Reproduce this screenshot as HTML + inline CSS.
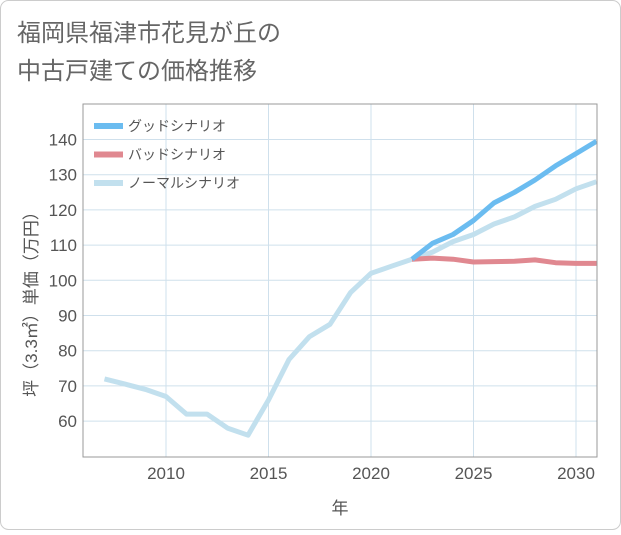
<!DOCTYPE html>
<html><head><meta charset="utf-8"><style>
body{margin:0;background:#fff;font-family:"Liberation Sans","Noto Sans CJK JP",sans-serif;}
#wrap{position:relative;width:621px;height:530px;}
</style></head><body>
<div id="wrap">
<svg id="chart" width="621" height="530" xmlns="http://www.w3.org/2000/svg">
<rect x="0.5" y="0.5" width="620" height="529" rx="8" fill="#fff" stroke="#ccc"/>
<text x="17" y="41" font-size="24" fill="#666" font-family="Liberation Sans,Noto Sans CJK JP,sans-serif">福岡県福津市花見が丘の</text>
<text x="17" y="79" font-size="24" fill="#666" font-family="Liberation Sans,Noto Sans CJK JP,sans-serif">中古戸建ての価格推移</text>
<g id="grid"></g><g id="series"></g><g id="axes"></g>
</svg>
</div>
<script>
const years=[2007,2008,2009,2010,2011,2012,2013,2014,2015,2016,2017,2018,2019,2020,2021,2022,2023,2024,2025,2026,2027,2028,2029,2030,2031];
const normal=[72,70.5,69,67,62,62,58,56,66,77.5,84,87.5,96.5,102,104,106,108,111,113,116,118,121,123,126,128];
const goodYears=[2022,2023,2024,2025,2026,2027,2028,2029,2030,2031];
const good=[106,110.5,113,117,122,125,128.5,132.5,136,139.5];
const bad=[106,106.3,106,105.2,105.3,105.4,105.8,105,104.8,104.8];
const xTicks=[2010,2015,2020,2025,2030];
const yTicks=[60,70,80,90,100,110,120,130,140];
const L=83,R=597,T=104,B=457;
const X=y=>166+(y-2010)*20.5;
const Y=v=>139.5-(v-140)*3.52;
const NS="http://www.w3.org/2000/svg";
function mk(p,t,a){const e=document.createElementNS(NS,t);for(const k in a)e.setAttribute(k,a[k]);p.appendChild(e);return e;}
const grid=document.getElementById('grid'),ser=document.getElementById('series'),ax=document.getElementById('axes');
yTicks.forEach(v=>{const l=mk(grid,'line',{x1:L,x2:R,y1:Y(v),y2:Y(v),stroke:'#cfe0ec','stroke-width':1});

const t=mk(ax,'text',{x:L-6,y:Y(v)+6,'text-anchor':'end','font-size':17,fill:'#555'});t.textContent=v;
});
xTicks.forEach(v=>{const l=mk(grid,'line',{x1:X(v),x2:X(v),y1:T,y2:B,stroke:'#cfe0ec','stroke-width':1});

const t=mk(ax,'text',{x:X(v),y:B+22,'text-anchor':'middle','font-size':17,fill:'#555'});t.textContent=v;
});
const box=mk(ax,'rect',{x:L,y:T,width:R-L,height:B-T,fill:'none',stroke:'#999','stroke-width':1});

function line(xs,vs,color,name){const d=xs.map((y,i)=>(i?'L':'M')+X(y).toFixed(1)+','+Y(vs[i]).toFixed(1)).join('');
const p=mk(ser,'path',{d:d,fill:'none',stroke:color,'stroke-width':5,'stroke-linejoin':'round'});
}
line(years,normal,'#c2e0ee','normal-series');
line(goodYears,bad,'#e08890','bad-series');
line(goodYears,good,'#6bbcf0','good-series');
const cp=document.createElementNS(NS,'clipPath');cp.id='c';mk(cp,'rect',{x:L,y:T,width:R-L,height:B-T});ser.parentNode.insertBefore(cp,ser);ser.setAttribute('clip-path','url(#c)');
const leg=[['グッドシナリオ','#6bbcf0'],['バッドシナリオ','#e08890'],['ノーマルシナリオ','#c2e0ee']];
leg.forEach((g,i)=>{const y=126+i*28.5;const r=mk(ax,'rect',{x:94,y:y-3,width:29,height:6,fill:g[1]});

const t=mk(ax,'text',{x:128,y:y+5,'font-size':14,fill:'#555'});t.textContent=g[0];
});
const xt=mk(ax,'text',{x:340,y:514,'text-anchor':'middle','font-size':17,fill:'#555'});xt.textContent='年';

const yt=mk(ax,'text',{x:0,y:0,'text-anchor':'middle','font-size':17,fill:'#555',transform:'translate(37,300) rotate(-90)'});yt.textContent='坪（3.3㎡）単価（万円）';

</script>
</body></html>
